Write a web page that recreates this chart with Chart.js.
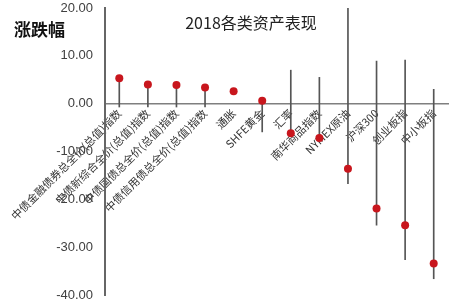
<!DOCTYPE html>
<html>
<head>
<meta charset="utf-8">
<script src="https://cdn.jsdelivr.net/npm/chart.js@4.4.1/dist/chart.umd.min.js"></script>
<style>
html,body{margin:0;padding:0;background:#fff;}
canvas{display:block;}
</style>
</head>
<body>
<canvas id="c" width="454" height="303"></canvas>
<script>
const categories = ['中债金融债券总全价(总值)指数','中债新综合全价(总值)指数','中债国债总全价(总值)指数','中债信用债总全价(总值)指数','通胀','SHFE黄金','汇率','南华商品指数','NYMEX原油','沪深300','创业板指','中小板指'];
const returns2018 = [5.3, 4.0, 3.9, 3.4, 2.6, 0.6, -6.2, -7.2, -13.6, -21.9, -25.4, -33.4];
const rangeHigh = [5.3, 4.0, 3.9, 3.4, 2.6, 0.6, 7.0, 5.5, 20.0, 8.9, 9.1, 3.0];
const rangeLow = [-0.7, -0.7, -0.7, -0.7, 2.6, -5.9, -6.2, -7.3, -16.7, -25.4, -32.6, -36.6];
const yTicks = [20, 10, 0, -10, -20, -30, -40];
const chartTitle = '2018各类资产表现';
const yTitle = '涨跌幅';

const textPlugin = {
  id: 'texts',
  afterDraw(chart) {
    const ctx = chart.ctx;
    ctx.save();
    ctx.fillStyle = '#222';
    ctx.textBaseline = 'middle';
    ctx.textAlign = 'center';
    ctx.font = '16px "Noto Sans CJK SC", "Liberation Sans", sans-serif';
    ctx.fillText(chartTitle, 251, 23);
    ctx.font = 'bold 17px "Noto Sans CJK SC", sans-serif';
    ctx.textAlign = 'left';
    ctx.fillStyle = '#111';
    ctx.fillText(yTitle, 14, 30);
    ctx.restore();
  }
};

new Chart(document.getElementById('c'), {
  data: {
    labels: categories,
    datasets: [
      {
        type: 'line',
        data: returns2018,
        showLine: false,
        pointRadius: 4,
        pointHoverRadius: 4,
        pointBackgroundColor: '#c8161d',
        pointBorderColor: '#c8161d',
        borderWidth: 0,
        order: 0
      },
      {
        type: 'bar',
        data: rangeLow.map((v, i) => [v, rangeHigh[i]]),
        backgroundColor: '#555',
        barThickness: 1,
        grouped: false,
        order: 1
      }
    ]
  },
  options: {
    responsive: false,
    devicePixelRatio: 1,
    animation: false,
    layout: { padding: { left: 0, right: 6, top: 8, bottom: 8 } },
    plugins: { legend: { display: false }, tooltip: { enabled: false }, title: { display: false } },
    scales: {
      x: {
        type: 'category',
        position: { y: 0 },
        offset: true,
        grid: { display: false, drawTicks: false },
        border: { display: true, color: '#7f7f7f', width: 1.5 },
        ticks: {
          autoSkip: false,
          minRotation: 45,
          maxRotation: 45,
          padding: 3,
          color: '#333',
          font: { size: 11, family: '"Noto Sans CJK SC", "Liberation Sans", sans-serif' }
        },
        afterFit(s) { s.height = 0; s.paddingLeft = 0; s.paddingRight = 0; }
      },
      y: {
        min: -40,
        max: 20,
        afterBuildTicks(s) { s.ticks = yTicks.map(v => ({ value: v })); },
        grid: { display: false, drawTicks: false },
        border: { display: true, color: '#666', width: 2 },
        ticks: {
          padding: 12,
          color: '#404040',
          font: { size: 13, family: '"Liberation Sans", sans-serif' },
          callback: v => Number(v).toFixed(2)
        },
        afterFit(s) { s.width = 105; s.paddingTop = 0; s.paddingBottom = 0; }
      }
    }
  },
  plugins: [textPlugin]
});
</script>
</body>
</html>
